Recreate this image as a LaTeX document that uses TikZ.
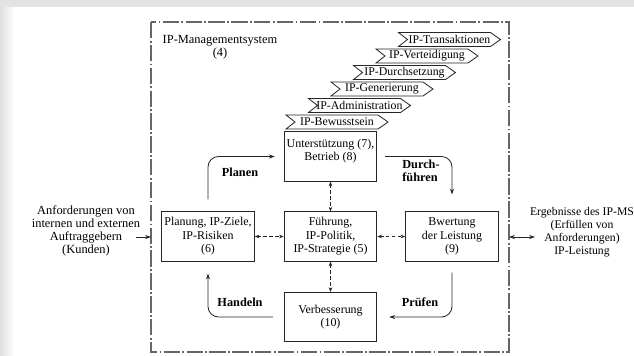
\documentclass[tikz,border=0pt]{standalone}
\usepackage{fontspec}
\setmainfont{Liberation Serif}
\usepackage{tikz}
\usetikzlibrary{calc,arrows.meta}
\tikzset{
  frame/.style={draw=black!60, line width=1pt, dash pattern=on 14pt off 2pt on 1.5pt off 2pt},
  box/.style={draw=black!85, line width=0.7pt, align=center, minimum width=2.78cm, minimum height=1.48cm, inner sep=1pt, font=\fontsize{10.2}{11.6}\selectfont},
  link/.style={{Stealth[length=4pt,width=3pt]}-{Stealth[length=4pt,width=3pt]}, draw=black!85, line width=0.6pt, dash pattern=on 3pt off 2pt},
  turn/.style={-{Stealth[length=5pt,width=3.5pt]}, draw=black!85, line width=0.7pt, rounded corners=9pt},
  flow/.style={-{Stealth[length=5pt,width=3.5pt]}, draw=black!85, line width=0.7pt},
  phase/.style={font=\fontsize{10.5}{11.4}\selectfont\bfseries, align=left, inner sep=1pt},
  note/.style={align=center, font=\fontsize{10.6}{11}\selectfont, inner sep=1pt},
  tag/.style={draw=black!85, line width=0.7pt, fill=white},
  tagtext/.style={font=\fontsize{10.1}{11}\selectfont, inner sep=0pt}
}
\begin{document}
\begin{tikzpicture}[x=0.03cm, y=-0.03cm]
  \useasboundingbox (0,0) rectangle (634,355);
  % page shadow
  \fill[gray!22] (0,0) rectangle (634,7);
  \shade[left color=gray!25, right color=white] (0,7) rectangle (14,355);

  \coordinate (fnw) at (151,22);
  \coordinate (fse) at (509,352);
  \draw[frame] (fnw) rectangle (fse);
  \node[note] (ims) at (220,47) {IP-Managementsystem\\(4)};

  % stacked tags
  \foreach \i/\txt in {5/IP-Transaktionen,4/IP-Verteidigung,3/IP-Durchsetzung,2/IP-Generierung,1/IP-Administration,0/IP-Bewusstsein}{
    \coordinate (t\i) at ({286+22.5*\i},{115-16.5*\i});
    \draw[tag] (t\i) -- ++(92,0) -- ++(10,7) -- ++(-10,7) -- ++(-92,0) -- ++(9,-7) -- cycle;
    \node[tagtext] (tag\i) at ($(t\i)+(51,7)$) {\txt};
  }

  \node[box] (support) at (330.5,156.5) {Unterstützung (7),\\Betrieb (8)\\ \mbox{}};
  \node[box] (plan) at (208,236.5) {Planung, IP-Ziele,\\IP-Risiken\\(6)};
  \node[box] (lead) at (330.5,236.5) {Führung,\\IP-Politik,\\IP-Strategie (5)};
  \node[box] (eval) at (452,236.5) {Bwertung\\der Leistung\\(9)};
  \node[box] (improve) at (330.5,317) {Verbesserung\\(10)};

  \draw[link] (support) -- (lead);
  \draw[link] (lead) -- (improve);
  \draw[link] (plan) -- (lead);
  \draw[link] (lead) -- (eval);

  \draw[turn] ($(plan.north)+(0,-12)$) |- ($(support.west)+(-9,0)$);
  \draw[turn] ($(support.east)+(8,0)$) -| ($(eval.north)+(0,-17)$);
  \draw[turn] ($(eval.south)+(0,11)$) |- ($(improve.east)+(12,0)$);
  \draw[turn] ($(improve.west)+(-11,0)$) -| ($(plan.south)+(0,12)$);

  \node[phase] (planen) at (240,172) {Planen};
  \node[phase] (durch) at (421,171) {Durch-\\führen};
  \node[phase] (pruefen) at (420,302) {Prüfen};
  \node[phase] (handeln) at (240,302) {Handeln};

  % inputs and outputs
  \node[note] (req) at (86,231) {Anforderungen von\\internen und externen\\Auftraggebern\\(Kunden)};
  \node[note, font=\fontsize{10}{11}\selectfont] (res) at (582,232) {Ergebnisse des IP-MS\\(Erfüllen von\\Anforderungen)\\IP-Leistung};
  \coordinate (inA) at (136,237);
  \draw[flow] (inA) -- (inA -| fnw);
  \coordinate (outA) at (535,237);
  \draw[flow, {Stealth[length=5pt,width=3.5pt]}-{Stealth[length=5pt,width=3.5pt]}] (outA -| fse) -- (outA);
\end{tikzpicture}
\end{document}
